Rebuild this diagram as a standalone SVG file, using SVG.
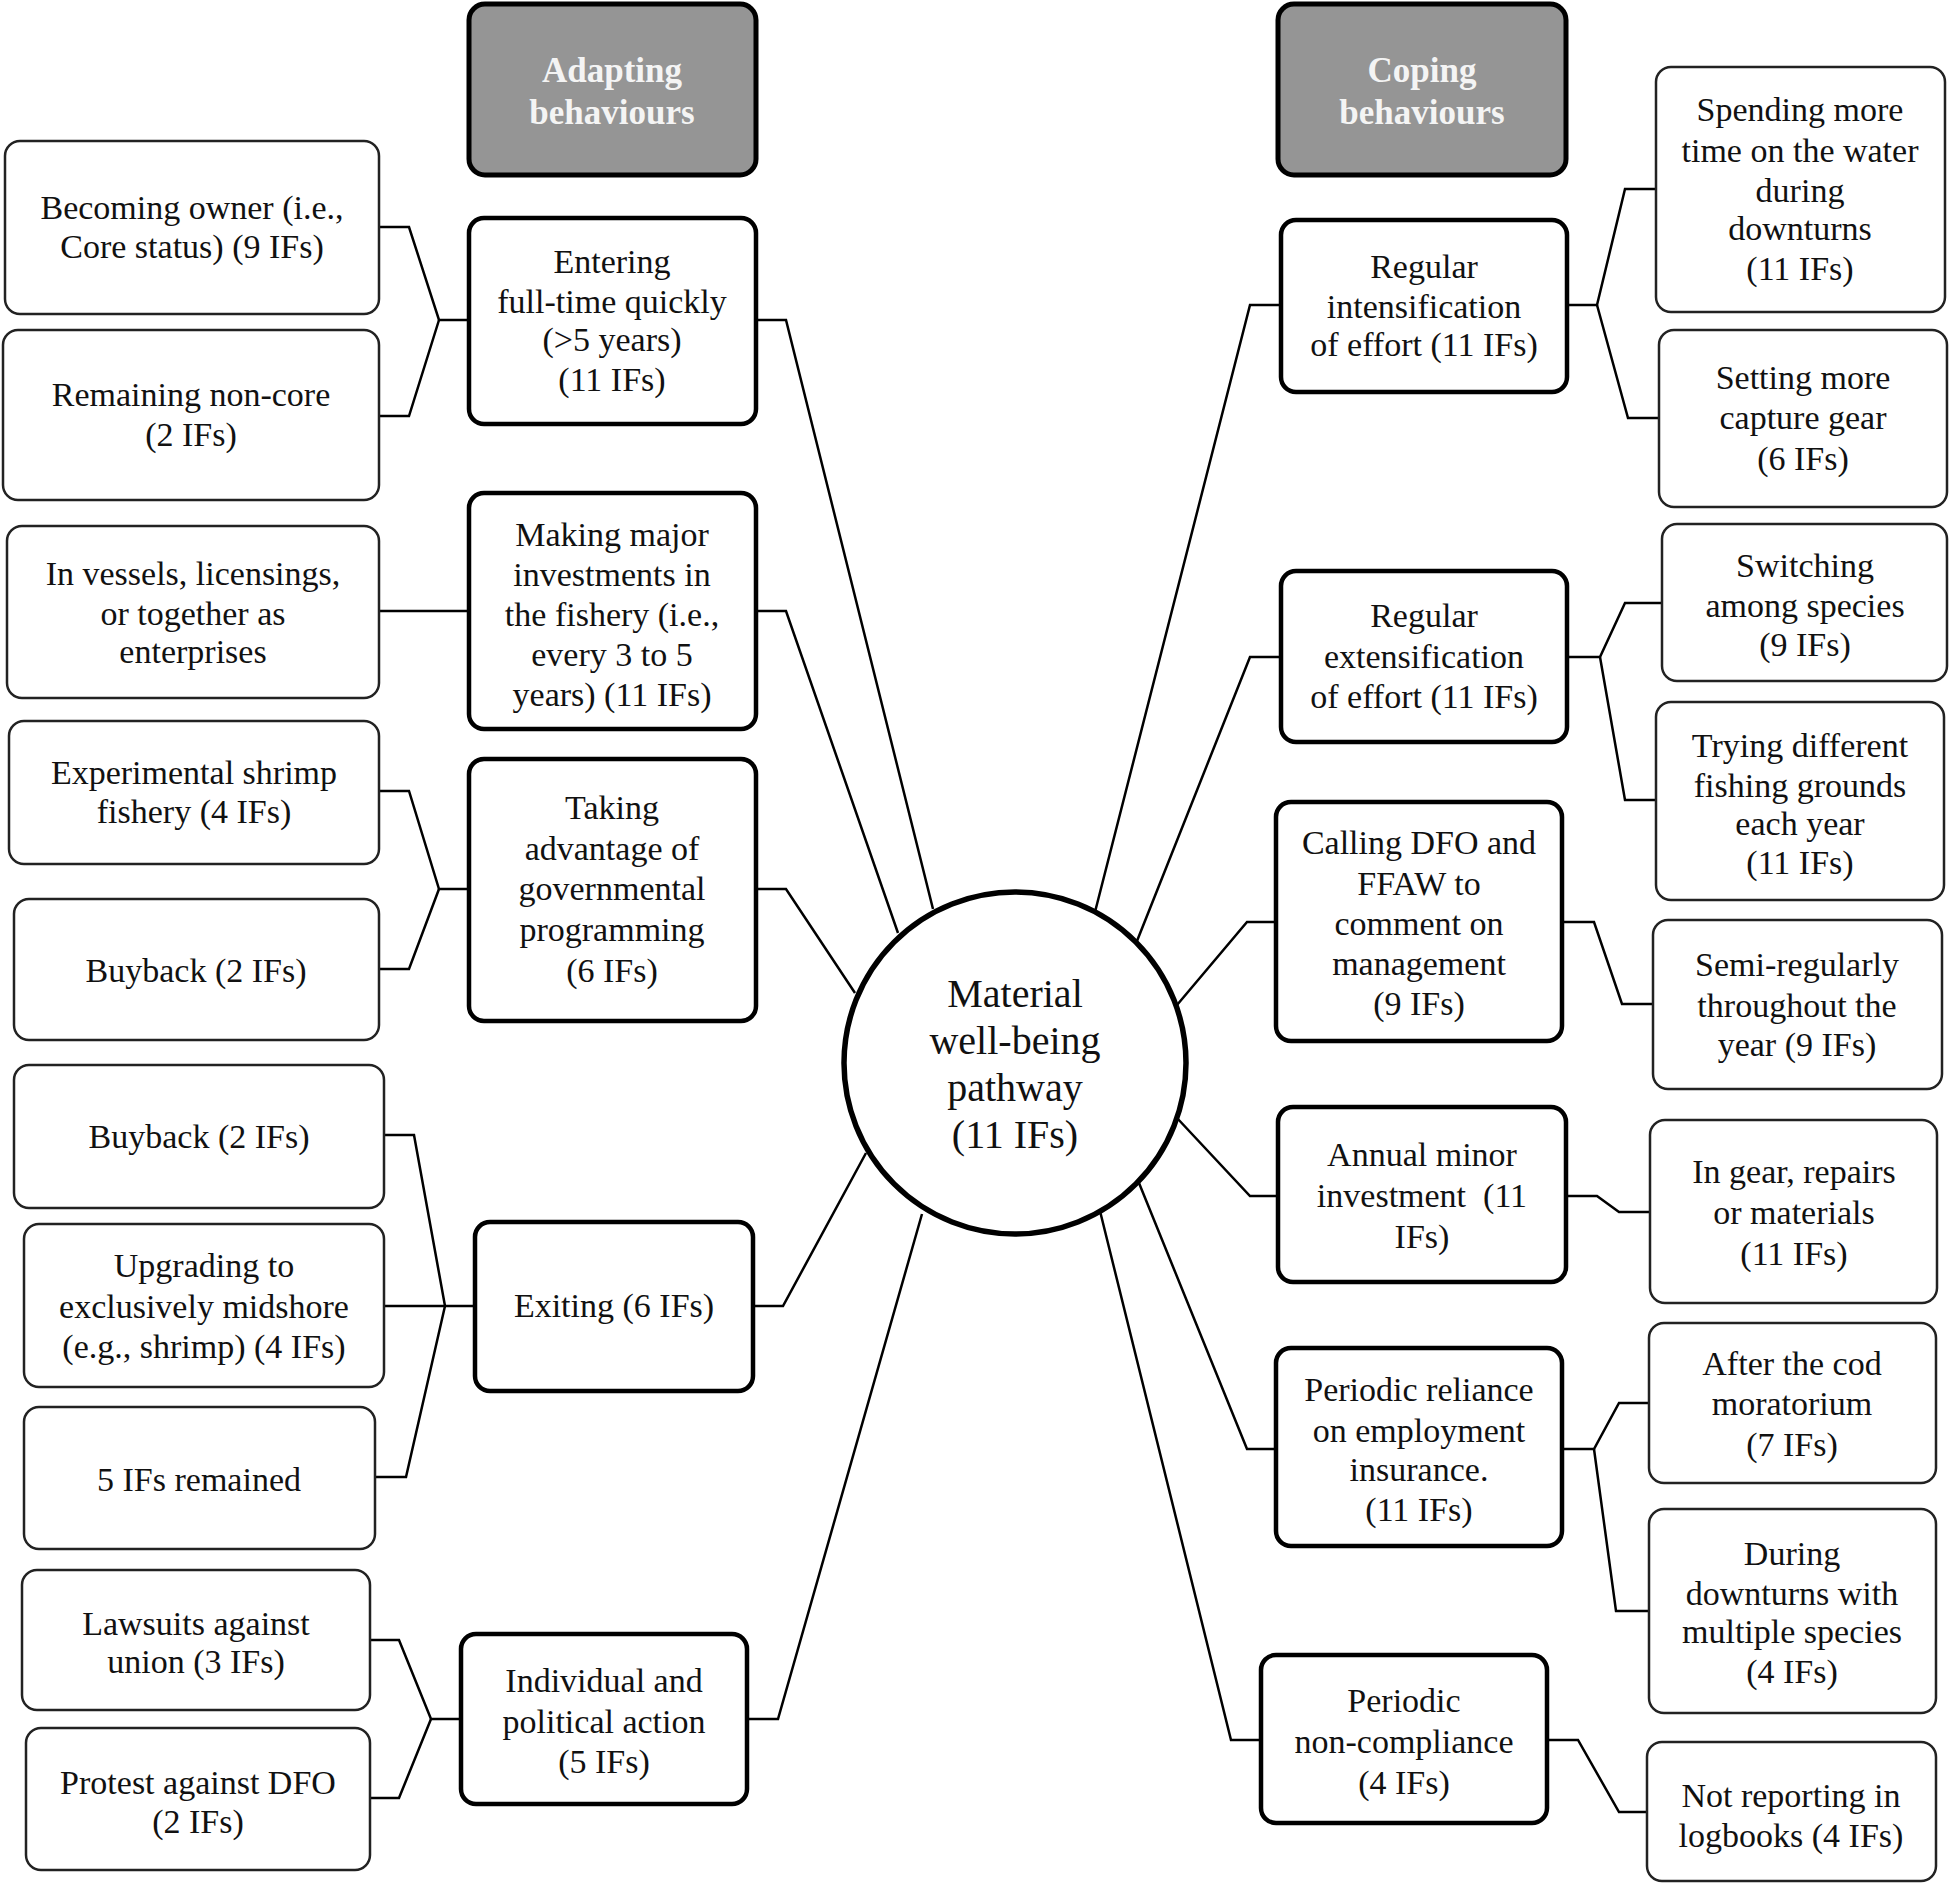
<svg xmlns="http://www.w3.org/2000/svg" width="1955" height="1894" viewBox="0 0 1955 1894">
<style>
.leaf{fill:#fff;stroke:#222;stroke-width:2.5}
.cat{fill:#fff;stroke:#000;stroke-width:4.5}
.hdr{fill:#959595;stroke:#000;stroke-width:5}
.t{font-family:"Liberation Serif","Times New Roman",serif;font-size:34px;fill:#111;text-anchor:middle}
.h{font-family:"Liberation Serif","Times New Roman",serif;font-size:35px;font-weight:bold;fill:#f4f4f4;text-anchor:middle}
.c{font-family:"Liberation Serif","Times New Roman",serif;font-size:40px;fill:#111;text-anchor:middle}
.ln{fill:none;stroke:#000;stroke-width:2.5;stroke-linejoin:miter}
</style>
<rect width="1955" height="1894" fill="#fff"/>
<g id="connectors">
<polyline class="ln" points="379,227 409,227 439,320 469,320"/>
<polyline class="ln" points="379,416 409,416 439,320"/>
<polyline class="ln" points="379,611 469,611"/>
<polyline class="ln" points="379,791 409,791 439,889 469,889"/>
<polyline class="ln" points="379,969 409,969 439,889"/>
<polyline class="ln" points="384,1135 414,1135 445,1306"/>
<polyline class="ln" points="384,1306 475,1306"/>
<polyline class="ln" points="375,1477 406,1477 445,1306"/>
<polyline class="ln" points="370,1640 399,1640 431,1719 461,1719"/>
<polyline class="ln" points="370,1798 399,1798 431,1719"/>
<polyline class="ln" points="756,320 786,320 933,909"/>
<polyline class="ln" points="756,611 786,611 898,933"/>
<polyline class="ln" points="756,889 786,889 855,993"/>
<polyline class="ln" points="753,1306 783,1306 866,1153"/>
<polyline class="ln" points="747,1719 778,1719 922,1214"/>
<polyline class="ln" points="1281,305 1250,305 1095,912"/>
<polyline class="ln" points="1281,657 1250,657 1137,941"/>
<polyline class="ln" points="1276,922 1247,922 1177,1005"/>
<polyline class="ln" points="1278,1196 1250,1196 1177,1118"/>
<polyline class="ln" points="1276,1449 1247,1449 1139,1183"/>
<polyline class="ln" points="1261,1740 1231,1740 1100,1211"/>
<polyline class="ln" points="1567,305 1597,305 1625,189 1656,189"/>
<polyline class="ln" points="1597,305 1628,418 1659,418"/>
<polyline class="ln" points="1567,657 1600,657 1625,603 1662,603"/>
<polyline class="ln" points="1600,657 1625,800 1656,800"/>
<polyline class="ln" points="1562,922 1594,922 1622,1004 1653,1004"/>
<polyline class="ln" points="1566,1196 1597,1196 1619,1212 1650,1212"/>
<polyline class="ln" points="1562,1449 1594,1449 1619,1403 1649,1403"/>
<polyline class="ln" points="1594,1449 1616,1611 1649,1611"/>
<polyline class="ln" points="1547,1740 1578,1740 1619,1812 1647,1812"/>
</g>
<g id="center">
<circle cx="1015" cy="1063" r="171" fill="#fff" stroke="#000" stroke-width="5.5"/>
<text class="c"><tspan x="1015" y="1007">Material</tspan><tspan x="1015" y="1054">well-being</tspan><tspan x="1015" y="1101">pathway</tspan><tspan x="1015" y="1148">(11 IFs)</tspan></text>
</g>
<g id="adapting-header">
<rect class="hdr" x="469" y="4" width="287" height="171" rx="16"/>
<text class="h"><tspan x="612" y="82">Adapting</tspan><tspan x="612" y="124">behaviours</tspan></text>
</g>
<g id="coping-header">
<rect class="hdr" x="1278" y="4" width="288" height="171" rx="16"/>
<text class="h"><tspan x="1422" y="82">Coping</tspan><tspan x="1422" y="124">behaviours</tspan></text>
</g>
<g id="becoming-owner">
<rect class="leaf" x="5" y="141" width="374" height="173" rx="15"/>
<text class="t"><tspan x="192" y="219">Becoming owner (i.e.,</tspan><tspan x="192" y="258">Core status) (9 IFs)</tspan></text>
</g>
<g id="remaining-noncore">
<rect class="leaf" x="3" y="330" width="376" height="170" rx="15"/>
<text class="t"><tspan x="191" y="406">Remaining non-core</tspan><tspan x="191" y="446">(2 IFs)</tspan></text>
</g>
<g id="in-vessels">
<rect class="leaf" x="7" y="526" width="372" height="172" rx="15"/>
<text class="t"><tspan x="193" y="585">In vessels, licensings,</tspan><tspan x="193" y="625">or together as</tspan><tspan x="193" y="663">enterprises</tspan></text>
</g>
<g id="exp-shrimp">
<rect class="leaf" x="9" y="721" width="370" height="143" rx="15"/>
<text class="t"><tspan x="194" y="784">Experimental shrimp</tspan><tspan x="194" y="823">fishery (4 IFs)</tspan></text>
</g>
<g id="buyback-1">
<rect class="leaf" x="14" y="899" width="365" height="141" rx="15"/>
<text class="t"><tspan x="196" y="982">Buyback (2 IFs)</tspan></text>
</g>
<g id="buyback-2">
<rect class="leaf" x="14" y="1065" width="370" height="143" rx="15"/>
<text class="t"><tspan x="199" y="1148">Buyback (2 IFs)</tspan></text>
</g>
<g id="upgrading">
<rect class="leaf" x="24" y="1224" width="360" height="163" rx="15"/>
<text class="t"><tspan x="204" y="1277">Upgrading to</tspan><tspan x="204" y="1318">exclusively midshore</tspan><tspan x="204" y="1358">(e.g., shrimp) (4 IFs)</tspan></text>
</g>
<g id="remained">
<rect class="leaf" x="24" y="1407" width="351" height="142" rx="15"/>
<text class="t"><tspan x="199" y="1491">5 IFs remained</tspan></text>
</g>
<g id="lawsuits">
<rect class="leaf" x="22" y="1570" width="348" height="140" rx="15"/>
<text class="t"><tspan x="196" y="1635">Lawsuits against</tspan><tspan x="196" y="1673">union (3 IFs)</tspan></text>
</g>
<g id="protest">
<rect class="leaf" x="26" y="1728" width="344" height="142" rx="15"/>
<text class="t"><tspan x="198" y="1794">Protest against DFO</tspan><tspan x="198" y="1833">(2 IFs)</tspan></text>
</g>
<g id="entering">
<rect class="cat" x="469" y="218" width="287" height="206" rx="15"/>
<text class="t"><tspan x="612" y="273">Entering</tspan><tspan x="612" y="313">full-time quickly</tspan><tspan x="612" y="351">(&gt;5 years)</tspan><tspan x="612" y="391">(11 IFs)</tspan></text>
</g>
<g id="major-investments">
<rect class="cat" x="469" y="493" width="287" height="236" rx="15"/>
<text class="t"><tspan x="612" y="546">Making major</tspan><tspan x="612" y="586">investments in</tspan><tspan x="612" y="626">the fishery (i.e.,</tspan><tspan x="612" y="666">every 3 to 5</tspan><tspan x="612" y="706">years) (11 IFs)</tspan></text>
</g>
<g id="taking-advantage">
<rect class="cat" x="469" y="759" width="287" height="262" rx="15"/>
<text class="t"><tspan x="612" y="819">Taking</tspan><tspan x="612" y="860">advantage of</tspan><tspan x="612" y="900">governmental</tspan><tspan x="612" y="941">programming</tspan><tspan x="612" y="982">(6 IFs)</tspan></text>
</g>
<g id="exiting">
<rect class="cat" x="475" y="1222" width="278" height="169" rx="15"/>
<text class="t"><tspan x="614" y="1317">Exiting (6 IFs)</tspan></text>
</g>
<g id="individual-political">
<rect class="cat" x="461" y="1634" width="286" height="170" rx="15"/>
<text class="t"><tspan x="604" y="1692">Individual and</tspan><tspan x="604" y="1733">political action</tspan><tspan x="604" y="1773">(5 IFs)</tspan></text>
</g>
<g id="intensification">
<rect class="cat" x="1281" y="220" width="286" height="172" rx="15"/>
<text class="t"><tspan x="1424" y="278">Regular</tspan><tspan x="1424" y="318">intensification</tspan><tspan x="1424" y="356">of effort (11 IFs)</tspan></text>
</g>
<g id="extensification">
<rect class="cat" x="1281" y="571" width="286" height="171" rx="15"/>
<text class="t"><tspan x="1424" y="627">Regular</tspan><tspan x="1424" y="668">extensification</tspan><tspan x="1424" y="708">of effort (11 IFs)</tspan></text>
</g>
<g id="calling-dfo">
<rect class="cat" x="1276" y="802" width="286" height="239" rx="15"/>
<text class="t"><tspan x="1419" y="854">Calling DFO and</tspan><tspan x="1419" y="895">FFAW to</tspan><tspan x="1419" y="935">comment on</tspan><tspan x="1419" y="975">management</tspan><tspan x="1419" y="1015">(9 IFs)</tspan></text>
</g>
<g id="annual-minor">
<rect class="cat" x="1278" y="1107" width="288" height="175" rx="15"/>
<text class="t" xml:space="preserve"><tspan x="1422" y="1166">Annual minor</tspan><tspan x="1422" y="1207">investment  (11</tspan><tspan x="1422" y="1248">IFs)</tspan></text>
</g>
<g id="periodic-reliance">
<rect class="cat" x="1276" y="1348" width="286" height="198" rx="15"/>
<text class="t"><tspan x="1419" y="1401">Periodic reliance</tspan><tspan x="1419" y="1442">on employment</tspan><tspan x="1419" y="1481">insurance.</tspan><tspan x="1419" y="1521">(11 IFs)</tspan></text>
</g>
<g id="non-compliance">
<rect class="cat" x="1261" y="1655" width="286" height="168" rx="15"/>
<text class="t"><tspan x="1404" y="1712">Periodic</tspan><tspan x="1404" y="1753">non-compliance</tspan><tspan x="1404" y="1794">(4 IFs)</tspan></text>
</g>
<g id="spending-time">
<rect class="leaf" x="1656" y="67" width="289" height="245" rx="15"/>
<text class="t"><tspan x="1800" y="121">Spending more</tspan><tspan x="1800" y="162">time on the water</tspan><tspan x="1800" y="202">during</tspan><tspan x="1800" y="240">downturns</tspan><tspan x="1800" y="280">(11 IFs)</tspan></text>
</g>
<g id="setting-gear">
<rect class="leaf" x="1659" y="330" width="288" height="177" rx="15"/>
<text class="t"><tspan x="1803" y="389">Setting more</tspan><tspan x="1803" y="429">capture gear</tspan><tspan x="1803" y="470">(6 IFs)</tspan></text>
</g>
<g id="switching-species">
<rect class="leaf" x="1662" y="524" width="285" height="157" rx="15"/>
<text class="t"><tspan x="1805" y="577">Switching</tspan><tspan x="1805" y="617">among species</tspan><tspan x="1805" y="656">(9 IFs)</tspan></text>
</g>
<g id="trying-grounds">
<rect class="leaf" x="1656" y="702" width="288" height="198" rx="15"/>
<text class="t"><tspan x="1800" y="757">Trying different</tspan><tspan x="1800" y="797">fishing grounds</tspan><tspan x="1800" y="835">each year</tspan><tspan x="1800" y="874">(11 IFs)</tspan></text>
</g>
<g id="semi-regularly">
<rect class="leaf" x="1653" y="920" width="289" height="169" rx="15"/>
<text class="t"><tspan x="1797" y="976">Semi-regularly</tspan><tspan x="1797" y="1017">throughout the</tspan><tspan x="1797" y="1056">year (9 IFs)</tspan></text>
</g>
<g id="in-gear">
<rect class="leaf" x="1650" y="1120" width="287" height="183" rx="15"/>
<text class="t"><tspan x="1794" y="1183">In gear, repairs</tspan><tspan x="1794" y="1224">or materials</tspan><tspan x="1794" y="1265">(11 IFs)</tspan></text>
</g>
<g id="after-cod">
<rect class="leaf" x="1649" y="1323" width="287" height="160" rx="15"/>
<text class="t"><tspan x="1792" y="1375">After the cod</tspan><tspan x="1792" y="1415">moratorium</tspan><tspan x="1792" y="1456">(7 IFs)</tspan></text>
</g>
<g id="during-downturns">
<rect class="leaf" x="1649" y="1509" width="287" height="204" rx="15"/>
<text class="t"><tspan x="1792" y="1565">During</tspan><tspan x="1792" y="1605">downturns with</tspan><tspan x="1792" y="1643">multiple species</tspan><tspan x="1792" y="1683">(4 IFs)</tspan></text>
</g>
<g id="not-reporting">
<rect class="leaf" x="1647" y="1742" width="289" height="139" rx="15"/>
<text class="t"><tspan x="1791" y="1807">Not reporting in</tspan><tspan x="1791" y="1847">logbooks (4 IFs)</tspan></text>
</g>
</svg>
